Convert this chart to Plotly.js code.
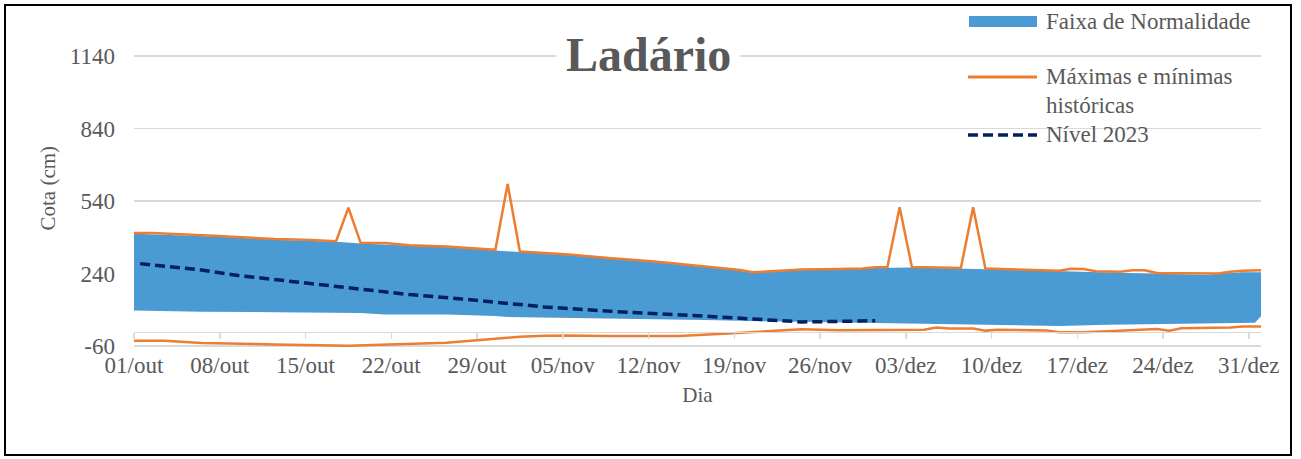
<!DOCTYPE html>
<html>
<head>
<meta charset="utf-8">
<script src="https://cdn.plot.ly/plotly-3.0.1.min.js"></script>
<style>
  html, body { margin: 0; padding: 0; background: #ffffff; }
  #chart { width: 1301px; height: 459px; }
</style>
</head>
<body>
<div id="chart"></div>
<script>
// ---------------- DATA ----------------
const tickDates = ['2023-10-01','2023-10-08','2023-10-15','2023-10-22','2023-10-29','2023-11-05','2023-11-12',
                   '2023-11-19','2023-11-26','2023-12-03','2023-12-10','2023-12-17','2023-12-24','2023-12-31'];
const tickLabels = ['01/out','08/out','15/out','22/out','29/out','05/nov','12/nov',
                    '19/nov','26/nov','03/dez','10/dez','17/dez','24/dez','31/dez'];
const yTickValues = [-60, 240, 540, 840, 1140];
const yTickLabels = ['-60', '240', '540', '840', '1140'];

// Máximas históricas
const maxDates = ['2023-09-30','2023-10-02','2023-10-07','2023-10-12','2023-10-15','2023-10-17','2023-10-18','2023-10-19',
                  '2023-10-21','2023-10-23','2023-10-26','2023-10-29','2023-10-30','2023-10-31','2023-11-01','2023-11-05',
                  '2023-11-08','2023-11-12','2023-11-15','2023-11-18','2023-11-19','2023-11-20','2023-11-22','2023-11-24',
                  '2023-11-27','2023-11-29','2023-11-30','2023-12-01','2023-12-02','2023-12-03','2023-12-07','2023-12-08',
                  '2023-12-09','2023-12-13','2023-12-15','2023-12-16','2023-12-17','2023-12-18','2023-12-20','2023-12-21',
                  '2023-12-22','2023-12-23','2023-12-25','2023-12-27','2023-12-28','2023-12-29','2023-12-30','2024-01-01'];
const maxValues = [408, 408, 396, 383, 379, 374, 512, 367,
                   366, 357, 352, 341, 338, 610, 331, 319,
                   305, 290, 276, 261, 255, 245, 250, 257,
                   259, 261, 266, 266, 514, 267, 263, 514,
                   261, 255, 252, 260, 259, 250, 247, 254,
                   254, 242, 241, 238, 240, 247, 252, 254];

// Mínimas históricas
const minDates = ['2023-09-30','2023-10-03','2023-10-06','2023-10-08','2023-10-12','2023-10-18','2023-10-21','2023-10-23',
                  '2023-10-26','2023-10-29','2023-11-01','2023-11-03','2023-11-05','2023-11-08','2023-11-11','2023-11-14',
                  '2023-11-18','2023-11-21','2023-11-24','2023-11-27','2023-11-30','2023-12-04','2023-12-05','2023-12-06',
                  '2023-12-08','2023-12-09','2023-12-10','2023-12-14','2023-12-15','2023-12-17','2023-12-19','2023-12-22',
                  '2023-12-23','2023-12-24','2023-12-25','2023-12-29','2023-12-30','2024-01-01'];
const minValues = [-38, -38, -47, -50, -53, -59, -55, -52,
                   -46, -34, -21, -17, -16, -18, -18, -18,
                   -8, 2, 10, 6, 6, 8, 17, 13,
                   13, 4, 8, 5, -3, -3, 1, 8,
                   11, 4, 14, 17, 21, 21];

// Faixa de Normalidade (limite superior e inferior)
const bandUpperDates = ['2023-09-30','2023-10-07','2023-10-12','2023-10-17','2023-10-19','2023-10-23','2023-10-26','2023-10-30',
                        '2023-11-01','2023-11-05','2023-11-12','2023-11-18','2023-11-20','2023-11-24','2023-11-30','2023-12-03',
                        '2023-12-09','2023-12-15','2023-12-20','2023-12-23','2023-12-27','2023-12-30','2024-01-01'];
const bandUpperValues = [405, 393, 380, 371, 364, 354, 349, 335,
                         328, 316, 287, 258, 243, 254, 263, 265,
                         258, 249, 244, 239, 235, 245, 245];
const bandLowerDates = ['2023-09-30','2023-10-06','2023-10-12','2023-10-19','2023-10-21','2023-10-26','2023-10-30','2023-10-31',
                        '2023-11-03','2023-11-10','2023-11-16','2023-11-21','2023-11-27','2023-12-02','2023-12-06','2023-12-11',
                        '2023-12-15','2023-12-19','2023-12-25','2023-12-31','2024-01-01'];
const bandLowerValues = [88, 82, 80, 77, 71, 71, 64, 60,
                         56, 52, 48, 43, 38, 33, 30, 26,
                         23, 28, 34, 37, 90];

// Nível 2023
const nivelDates = ['2023-10-01','2023-10-06','2023-10-09','2023-10-14','2023-10-17','2023-10-21','2023-10-23','2023-10-27',
                    '2023-10-31','2023-11-03','2023-11-05','2023-11-10','2023-11-16','2023-11-21','2023-11-24','2023-11-27',
                    '2023-11-30'];
const nivelValues = [281, 255, 232, 205, 186, 167, 153, 136,
                     115, 102, 95, 79, 64, 51, 40, 42,
                     45];

// ---------------- STYLE / LAYOUT ----------------
const FONT = "'Liberation Serif', 'Times New Roman', serif";
const GRAY = '#595959';
const GRID = '#d9d9d9';
const BLUE = '#4a9ad3';
const ORANGE = '#ed7d31';
const NAVY = '#002060';

const W = 1301, H = 459;
const M = {l: 134, r: 40, t: 53, b: 110};
const PW = W - M.l - M.r, PH = H - M.t - M.b;
const px = v => (v - M.l) / PW;       // pixel x -> paper
const py = v => (H - M.b - v) / PH;   // pixel y -> paper

const noon = d => d + ' 12:00';

const bandX = bandUpperDates.map(noon).concat(bandLowerDates.slice().reverse().map(noon));
const bandY = bandUpperValues.concat(bandLowerValues.slice().reverse());

const traces = [
  {
    type: 'scatter', mode: 'lines', name: 'Faixa de Normalidade',
    x: bandX, y: bandY, fill: 'toself', fillcolor: BLUE,
    line: {width: 0, color: BLUE}, hoverinfo: 'skip', showlegend: false
  },
  {
    type: 'scatter', mode: 'lines', name: 'Máximas históricas',
    x: maxDates.map(noon), y: maxValues,
    line: {color: ORANGE, width: 2.5}, showlegend: false
  },
  {
    type: 'scatter', mode: 'lines', name: 'Mínimas históricas',
    x: minDates.map(noon), y: minValues,
    line: {color: ORANGE, width: 2.5}, showlegend: false
  },
  {
    type: 'scatter', mode: 'lines', name: 'Nível 2023',
    x: nivelDates.map(noon), y: nivelValues,
    line: {color: NAVY, width: 3.5, dash: '10px,5px'}, showlegend: false
  },
  {
    // carrier for the axis drawn at cota 0 (tick marks only)
    type: 'scatter', mode: 'lines', xaxis: 'x2', yaxis: 'y',
    x: tickDates, y: tickDates.map(() => null),
    hoverinfo: 'skip', showlegend: false
  }
];

const xRange = ['2023-10-01', '2024-01-01'];
const yRange = [-72, 1152];   // pad of ~3 px so the edge grid lines (-60, 1140) are drawn

const layout = {
  width: W, height: H,
  margin: M,
  paper_bgcolor: '#ffffff', plot_bgcolor: '#ffffff',
  font: {family: FONT, color: GRAY, size: 23},
  showlegend: false,
  xaxis: {
    type: 'date', range: xRange,
    tickmode: 'array', tickvals: tickDates, ticktext: tickLabels,
    showgrid: false, zeroline: false, showline: false, ticks: '',
    tickfont: {family: FONT, size: 23, color: GRAY},
    title: {text: 'Dia', font: {family: FONT, size: 21, color: GRAY}, standoff: 10},
    fixedrange: true
  },
  xaxis2: {
    type: 'date', range: xRange, overlaying: 'x', anchor: 'free',
    position: (0 - yRange[0]) / (yRange[1] - yRange[0]),
    tickmode: 'array', tickvals: tickDates, showticklabels: false,
    showgrid: false, zeroline: false,
    showline: true, linecolor: GRID, linewidth: 1.5,
    ticks: 'outside', ticklen: 6, tickwidth: 1.5, tickcolor: GRID,
    fixedrange: true
  },
  yaxis: {
    range: yRange,
    tickmode: 'array', tickvals: yTickValues, ticktext: yTickLabels,
    showgrid: true, gridcolor: GRID, gridwidth: 1.5,
    zeroline: false, showline: false, ticks: '',
    ticklabelstandoff: 18,
    tickfont: {family: FONT, size: 23, color: GRAY},
    fixedrange: true
  },
  shapes: [
    // outer frame
    {type: 'rect', xref: 'paper', yref: 'paper', x0: px(5), x1: px(1291), y0: py(455), y1: py(5),
     line: {color: '#000000', width: 2}, fillcolor: 'rgba(0,0,0,0)', layer: 'above'},
    // legend symbols
    {type: 'rect', xref: 'paper', yref: 'paper', x0: px(969), x1: px(1037), y0: py(27), y1: py(16),
     fillcolor: BLUE, line: {width: 0}},
    {type: 'line', xref: 'paper', yref: 'paper', x0: px(968), x1: px(1037), y0: py(77), y1: py(77),
     line: {color: ORANGE, width: 3}},
    {type: 'line', xref: 'paper', yref: 'paper', x0: px(968), x1: px(1037), y0: py(135), y1: py(135),
     line: {color: NAVY, width: 3.5, dash: '10px,5px'}}
  ],
  annotations: [
    {text: '<b>Ladário</b>', xref: 'paper', yref: 'paper', x: px(648), y: py(54),
     xanchor: 'center', yanchor: 'middle', showarrow: false,
     font: {family: FONT, size: 48, color: GRAY}, bgcolor: '#ffffff', borderpad: 9},
    // y axis title
    {text: 'Cota (cm)', xref: 'paper', yref: 'paper', x: px(47), y: py(188.5),
     xanchor: 'center', yanchor: 'middle', textangle: -90, showarrow: false,
     font: {family: FONT, size: 21, color: GRAY}},
    // legend texts
    {text: 'Faixa de Normalidade', xref: 'paper', yref: 'paper', x: px(1044), y: py(21),
     xanchor: 'left', yanchor: 'middle', showarrow: false, font: {family: FONT, size: 23, color: GRAY}},
    {text: 'Máximas e mínimas', xref: 'paper', yref: 'paper', x: px(1044), y: py(77),
     xanchor: 'left', yanchor: 'middle', showarrow: false, font: {family: FONT, size: 23, color: GRAY}},
    {text: 'históricas', xref: 'paper', yref: 'paper', x: px(1044), y: py(105),
     xanchor: 'left', yanchor: 'middle', showarrow: false, font: {family: FONT, size: 23, color: GRAY}},
    {text: 'Nível 2023', xref: 'paper', yref: 'paper', x: px(1044), y: py(134),
     xanchor: 'left', yanchor: 'middle', showarrow: false, font: {family: FONT, size: 23, color: GRAY}}
  ]
};

Plotly.newPlot('chart', traces, layout, {staticPlot: true, displayModeBar: false});
</script>
</body>
</html>
